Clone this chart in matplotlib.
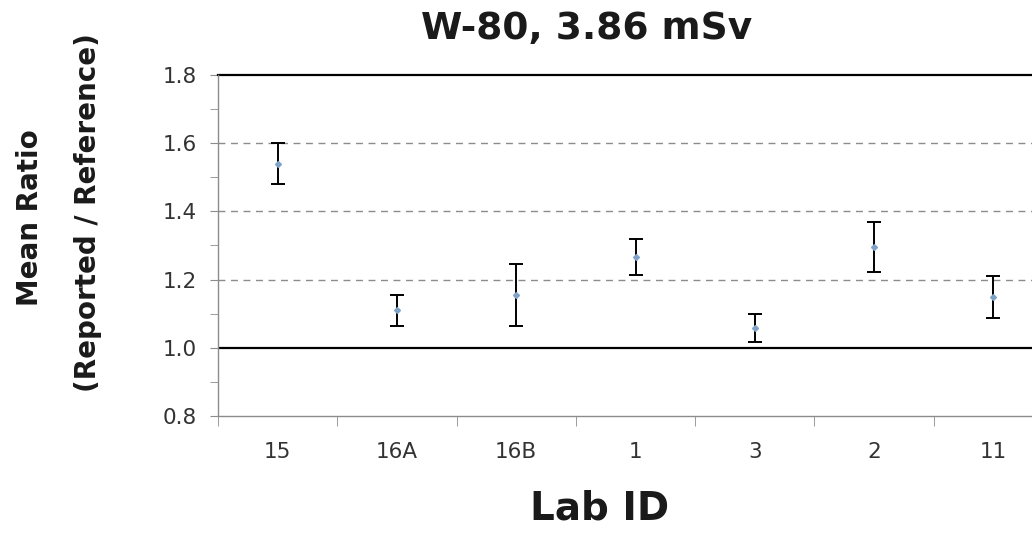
import numpy as np
import matplotlib.pyplot as plt
from matplotlib.ticker import MultipleLocator, FixedLocator

plt.rcParams['font.family'] = ['DejaVu Sans']

labs = ['15', '16A', '16B', '1', '3', '2', '11']
ratio = [1.54, 1.11, 1.155, 1.265, 1.058, 1.295, 1.149]
err = [0.06, 0.045, 0.09, 0.053, 0.04, 0.073, 0.062]
yticks = [0.8, 1.0, 1.2, 1.4, 1.6, 1.8]

fig = plt.figure(figsize=(10.32, 5.34), dpi=100)
ax = fig.add_axes([0.2112, 0.221, 0.80, 0.6386])

x = np.arange(len(labs))
ax.errorbar(x, ratio, yerr=err, fmt='D', color='#7fa3c8', markersize=3,
            ecolor='black', elinewidth=1.4, capsize=5, capthick=1.4, zorder=3)

# grid lines
for y in [1.2, 1.4, 1.6]:
    ax.axhline(y, color='#8c8c8c', lw=1.0, ls=(0, (5, 4)), zorder=1)
ax.axhline(1.0, color='black', lw=1.6, zorder=2)
ax.axhline(1.8, color='black', lw=1.6, zorder=2, clip_on=False)

ax.set_ylim(0.8, 1.8)
ax.set_xlim(-0.5, 6.42)
ax.set_yticks(yticks)
ax.set_yticklabels(['%.1f' % v for v in yticks], fontsize=15.5, color='#333333')
ax.yaxis.set_minor_locator(MultipleLocator(0.1))
ax.set_xticks(x)
ax.set_xticklabels(labs, fontsize=15.5, color='#333333')
ax.xaxis.set_minor_locator(FixedLocator(np.arange(-0.5, 7, 1.0)))
ax.tick_params(axis='x', which='major', length=0, pad=19)
ax.tick_params(axis='x', which='minor', length=7, color='#8c8c8c', direction='out')
ax.tick_params(axis='y', which='both', length=6, color='#8c8c8c', direction='out', pad=9)

for s in ['top', 'right']:
    ax.spines[s].set_visible(False)
for s in ['left', 'bottom']:
    ax.spines[s].set_color('#8c8c8c')
    ax.spines[s].set_linewidth(1.0)

fig.text(587 / 1032, 1 - 29 / 534, 'W-80, 3.86 mSv', ha='center', va='center',
         fontsize=27, fontweight='bold', color='#1a1a1a')
fig.text(600 / 1032, 1 - 508 / 534, 'Lab ID', ha='center', va='center',
         fontsize=28, fontweight='bold', color='#1a1a1a')
fig.text(30 / 1032, 1 - 218 / 534, 'Mean Ratio', ha='center', va='center',
         rotation=90, fontsize=20, fontweight='bold', color='#1a1a1a')
fig.text(88 / 1032, 1 - 213 / 534, '(Reported / Reference)', ha='center', va='center',
         rotation=90, fontsize=20, fontweight='bold', color='#1a1a1a')

fig.savefig('out.png', dpi=100)
